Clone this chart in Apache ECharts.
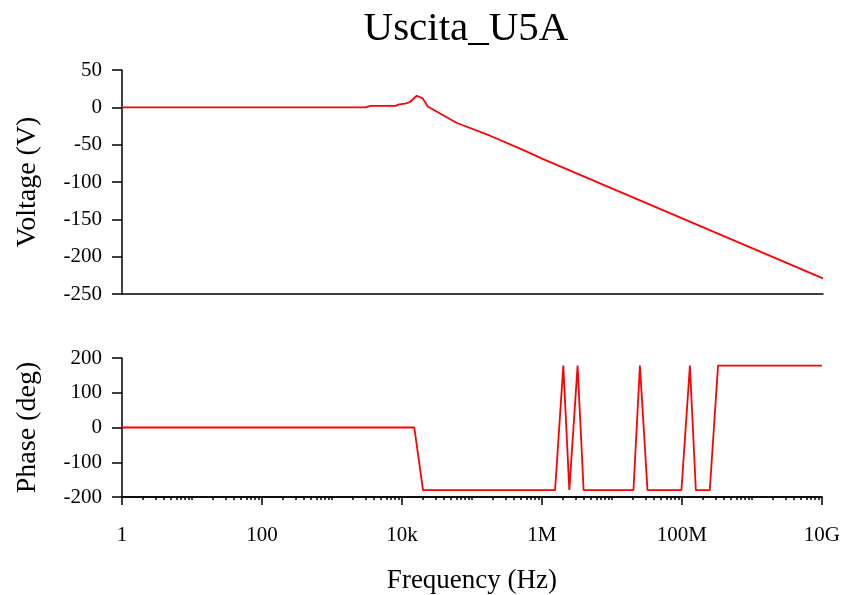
<!DOCTYPE html>
<html>
<head>
<meta charset="utf-8">
<script src="https://cdn.jsdelivr.net/npm/echarts@6/dist/echarts.min.js"></script>
<style>html,body{margin:0;padding:0;background:#fff;}#c{width:843px;height:595px;}</style>
</head>
<body>
<div id="c"></div>
<script>
// Voltage trace (frequency in Hz, value in V)
var voltFreq   = [1, 3000, 3500, 8000, 9000, 11000, 13000, 16000, 19500, 23000, 34000, 60000, 178000, 525000, 1e6, 1e10];
var voltValues = [0, 0,    2,    2,    4,    5,     7.5,   15.5,  12,    1,     -8,    -21,   -38,    -57,    -69,   -229];
// Phase trace (frequency in Hz, value in deg)
var phaseFreq   = [1, 15000, 20000, 1.54e6, 2.02e6, 2.46e6, 3.23e6, 3.94e6, 2.03e7, 2.51e7, 3.22e7, 9.84e7, 1.3e8, 1.58e8, 2.5e8, 3.28e8, 1e10];
var phaseValues = [0, 0,     -180,  -180,   178,    -180,   178,    -180,   -180,   178,    -180,   -180,   178,   -180,   -180,  178,    178];
// Axis tick labels
var voltTicks  = [-250, -200, -150, -100, -50, 0, 50];
var phaseTicks = [-200, -100, 0, 100, 200];
var freqTickLabels = {0: '1', 2: '100', 4: '10k', 6: '1M', 8: '100M', 10: '10G'};

var FONT = 'Liberation Serif';
var chart = echarts.init(document.getElementById('c'));
function pairs(xs, ys) { return xs.map(function (x, i) { return [x, ys[i]]; }); }
var axisLine = {show: true, onZero: false, lineStyle: {color: '#000', width: 1.5}};
var labelStyle = {color: '#000', fontFamily: FONT, fontSize: 21};

chart.setOption({
  animation: false,
  backgroundColor: '#fff',
  title: {
    text: 'Uscita_U5A', left: 461, top: 4, textAlign: 'center',
    textStyle: {fontFamily: FONT, fontSize: 41, fontWeight: 'normal', color: '#000'}
  },
  grid: [
    {left: 122, right: 20, top: 70, height: 224},
    {left: 122, right: 20, top: 358, height: 139}
  ],
  xAxis: [
    {type: 'log', gridIndex: 0, min: 1, max: 1e10, logBase: 10,
     axisLine: axisLine, axisTick: {show: false}, axisLabel: {show: false}, splitLine: {show: false}},
    {type: 'log', gridIndex: 1, min: 1, max: 1e10, interval: 1, position: 'bottom',
     axisLine: axisLine, axisTick: {show: true, length: 3, lineStyle: {color: '#000', width: 1.5}},
     minorTick: {show: true, splitNumber: 9, length: 3, lineStyle: {color: '#000', width: 1.5}},
     axisLabel: {show: false}, splitLine: {show: false}, minorSplitLine: {show: false}},
    {type: 'log', gridIndex: 1, min: 1, max: 1e10, interval: 2, position: 'bottom',
     name: 'Frequency (Hz)', nameLocation: 'middle', nameGap: 70,
     nameTextStyle: {fontFamily: FONT, fontSize: 27, color: '#000'},
     axisLine: axisLine, axisTick: {show: true, length: 8, lineStyle: {color: '#000', width: 1.5}},
     axisLabel: Object.assign({margin: 28, formatter: function (v) {
        var e = Math.round(Math.log10(v));
        return freqTickLabels[e] !== undefined ? freqTickLabels[e] : '';
     }}, labelStyle),
     splitLine: {show: false}}
  ],
  yAxis: [
    {type: 'value', gridIndex: 0, min: voltTicks[0], max: voltTicks[voltTicks.length - 1], interval: 50,
     name: 'Voltage (V)', nameLocation: 'middle', nameRotate: 90, nameGap: 80,
     nameTextStyle: {fontFamily: FONT, fontSize: 28, color: '#000'},
     axisLine: axisLine, axisTick: {show: true, length: 10, lineStyle: {color: '#000', width: 1.5}},
     axisLabel: Object.assign({margin: 20}, labelStyle), splitLine: {show: false}},
    {type: 'value', gridIndex: 1, min: phaseTicks[0], max: phaseTicks[phaseTicks.length - 1], interval: 100,
     name: 'Phase (deg)', nameLocation: 'middle', nameRotate: 90, nameGap: 80,
     nameTextStyle: {fontFamily: FONT, fontSize: 28, color: '#000'},
     axisLine: axisLine, axisTick: {show: true, length: 10, lineStyle: {color: '#000', width: 1.5}},
     axisLabel: Object.assign({margin: 20}, labelStyle), splitLine: {show: false}}
  ],
  series: [
    {type: 'line', xAxisIndex: 0, yAxisIndex: 0, data: pairs(voltFreq, voltValues),
     showSymbol: false, symbol: 'none', lineStyle: {color: '#ff0000', width: 1.8}},
    {type: 'line', xAxisIndex: 1, yAxisIndex: 1, data: pairs(phaseFreq, phaseValues),
     showSymbol: false, symbol: 'none', lineStyle: {color: '#ff0000', width: 1.8}}
  ]
});
</script>
</body>
</html>
